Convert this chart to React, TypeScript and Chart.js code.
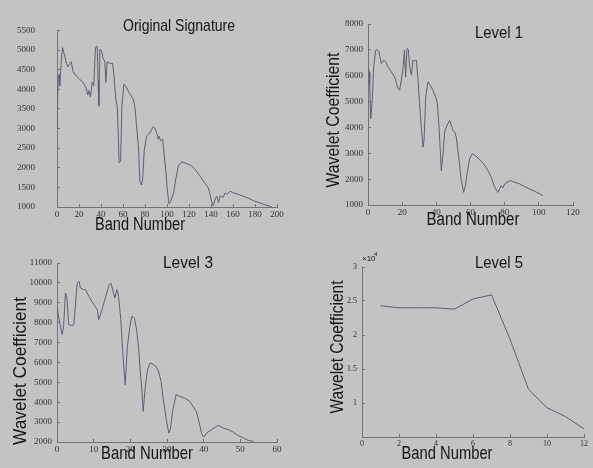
import React, { useEffect, useRef } from "react";
import { Chart, registerables } from "chart.js";

Chart.register(...registerables);

const BG = "#c3c3c3";
const LINE = "#5e5e76";
const AXIS = "#727272";
const TEXT = "#161616";
const TICK_TEXT = "#333333";

// ---- Original Signature ----
const sigBands = [0, 1, 2, 2.5, 3, 5, 7, 8.5, 10, 11.5, 13, 14.5, 17.5, 20.5, 23.7, 26.7, 28, 29, 30.4, 32, 33.4, 35, 36.5, 37.4, 38, 39, 40.4, 42, 43.5, 44.4, 45.6, 48, 50.5, 51.7, 53.5, 54.7, 55.6, 56.5, 57.8, 59, 60.8, 63, 66, 69, 70.8, 72, 74, 75.4, 77, 78, 79.3, 81.5, 84.5, 87.5, 89, 90.6, 92, 93, 94, 96, 97, 98.8, 100.3, 101.8, 103, 106, 108, 110.3, 113.4, 116.4, 119.5, 122.5, 125.5, 128.6, 131.6, 134.7, 137.7, 139.2, 140.7, 142, 143.8, 145.3, 146.8, 148.3, 150.8, 152.9, 154.4, 157.4, 160.5, 166.6, 172.6, 178.7, 184.8, 190.9, 195.4];
const sigValues = [3000, 4250, 4380, 4090, 4380, 5060, 4860, 4660, 4575, 4660, 4700, 4455, 4335, 4255, 4175, 4015, 3850, 3970, 3810, 4175, 4090, 5060, 5100, 4210, 3570, 5020, 4980, 4780, 4700, 4175, 4700, 4660, 4660, 4375, 3730, 3570, 2930, 2125, 2165, 3570, 4130, 4050, 3890, 3770, 3570, 3170, 2530, 1640, 1560, 1760, 2450, 2810, 2890, 3050, 3010, 2890, 2730, 2810, 2690, 2730, 2450, 1960, 1440, 1080, 1120, 1360, 1720, 2045, 2150, 2125, 2085, 2045, 1960, 1845, 1720, 1600, 1480, 1320, 1120, 1040, 1200, 1280, 1120, 1280, 1240, 1360, 1320, 1400, 1360, 1305, 1240, 1160, 1100, 1040, 1000];

// ---- Level 1 ----
const l1Bands = [0, 0.6, 1, 1.6, 2.5, 3.3, 4.5, 5.3, 6.4, 7.8, 9.2, 10.3, 11.7, 13.7, 15.6, 17.6, 18.5, 19.5, 20.5, 21.3, 22, 22.8, 23.6, 24.4, 25.4, 26.3, 27.3, 28.3, 29.3, 30.2, 31.2, 32.2, 32.8, 33.8, 35.1, 36.5, 38, 39.6, 40.6, 41.6, 42.3, 42.9, 43.9, 44.9, 46.2, 47.8, 48.8, 49.8, 50.7, 51.7, 53.3, 54.6, 56, 57, 58, 59.5, 61, 63, 65.4, 67.7, 70.2, 72.2, 74.1, 76, 77, 78, 79, 80, 81.4, 83.3, 85.9, 88.8, 91.7, 94.6, 97.6, 100.5, 102.4];
const l1Values = [6340, 6150, 5700, 4340, 5050, 6340, 6990, 7015, 6925, 6470, 6600, 6540, 6340, 6150, 5950, 5500, 5440, 5830, 6280, 6990, 5950, 7050, 7015, 6340, 6020, 6600, 6570, 6600, 5830, 4920, 4010, 3240, 3500, 5180, 5760, 5630, 5440, 5180, 4920, 4010, 3110, 2330, 2980, 3820, 4080, 4270, 4080, 3885, 3820, 3630, 2720, 1940, 1490, 1750, 2200, 2790, 2980, 2910, 2750, 2590, 2330, 2070, 1690, 1490, 1620, 1750, 1660, 1815, 1880, 1940, 1880, 1815, 1710, 1620, 1530, 1430, 1360];

// ---- Level 3 ----
const l3Bands = [0, 0.5, 1.4, 1.8, 2.3, 2.7, 3.2, 4.1, 4.6, 5.5, 6, 6.4, 7.3, 7.8, 8.7, 10.1, 11, 11.4, 12.4, 13.3, 14.2, 14.7, 15.3, 15.8, 16.3, 16.8, 17.4, 18, 18.6, 19.2, 19.9, 20.4, 21.1, 21.7, 22.3, 22.6, 23.2, 23.5, 24.1, 24.7, 25.4, 26.1, 27, 27.7, 28.4, 29, 29.8, 30.5, 30.9, 31.6, 32.5, 33.4, 34.8, 36.2, 37.1, 38, 38.6, 39.4, 40, 40.8, 42.1, 43.5, 44.2, 45.3, 46.7, 48.1, 49.5, 50.8, 52.2, 53.6];
const l3Values = [8820, 8230, 7400, 7820, 9490, 9240, 7900, 7850, 7900, 9990, 10080, 9740, 9660, 9660, 9320, 8900, 8650, 8150, 8740, 9320, 9910, 9990, 9570, 9240, 9660, 9320, 8150, 6310, 4880, 6810, 7820, 8320, 8230, 7650, 6640, 5800, 4460, 3540, 4800, 5640, 5970, 5920, 5800, 5550, 5050, 4130, 3120, 2450, 2620, 3630, 4380, 4300, 4210, 4040, 3790, 3540, 3120, 2450, 2250, 2450, 2620, 2790, 2820, 2700, 2620, 2490, 2320, 2200, 2080, 2030];

// ---- Level 5 ----
const l5Bands = [1, 2, 3, 4, 5, 6, 7, 8, 9, 10, 11, 12];
const l5Values = [24300, 24000, 24000, 24000, 23800, 25300, 25900, 19400, 12000, 9300, 8000, 6200];

type TextItem = { text: string; x: number; y: number; size: number; maxWidth?: number; rot?: number; align?: CanvasTextAlign };

function textPlugin(items: TextItem[]) {
  return {
    id: "panelText",
    afterDraw(chart: any) {
      const ctx = chart.ctx as CanvasRenderingContext2D;
      for (const t of items) {
        ctx.save();
        ctx.translate(t.x, t.y);
        if (t.rot) ctx.rotate(t.rot);
        ctx.font = `${t.size}px "Liberation Sans", Arial, sans-serif`;
        ctx.fillStyle = TEXT;
        ctx.textAlign = t.align || "center";
        ctx.textBaseline = "middle";
        if (t.maxWidth) ctx.fillText(t.text, 0, 0, t.maxWidth);
        else ctx.fillText(t.text, 0, 0);
        ctx.restore();
      }
    },
  };
}

type Panel = {
  left: number; top: number; width: number; height: number;
  bands: number[]; values: number[];
  xMin: number; xMax: number; xStep: number;
  yMin: number; yMax: number; yStep: number;
  yLabel: (v: number) => string;
  yAxisW: number; xAxisH: number; padTop: number; padRight: number;
  yTickPad: number; tickSize: number;
  items: TextItem[];
};

const ROT = -Math.PI / 2;

const panels: Panel[] = [
  {
    left: 0, top: 0, width: 300, height: 238,
    bands: sigBands, values: sigValues,
    xMin: 0, xMax: 200, xStep: 20, yMin: 1000, yMax: 5500, yStep: 500,
    yLabel: (v) => String(v),
    yAxisW: 57, xAxisH: 31, padTop: 22, padRight: 23, yTickPad: 25, tickSize: 9,
    items: [
      { text: "Original Signature", x: 179, y: 26, size: 17, maxWidth: 112 },
      { text: "Band Number", x: 140, y: 225, size: 18, maxWidth: 90 },
    ],
  },
  {
    left: 300, top: 0, width: 293, height: 238,
    bands: l1Bands, values: l1Values,
    xMin: 0, xMax: 120, xStep: 20, yMin: 1000, yMax: 8000, yStep: 1000,
    yLabel: (v) => String(v),
    yAxisW: 68, xAxisH: 33, padTop: 24, padRight: 20, yTickPad: 8, tickSize: 9,
    items: [
      { text: "Level 1", x: 199, y: 33, size: 17, maxWidth: 48 },
      { text: "Band Number", x: 173, y: 220, size: 18, maxWidth: 93 },
      { text: "Wavelet Coefficient", x: 34, y: 120, size: 18, maxWidth: 135, rot: ROT },
    ],
  },
  {
    left: 0, top: 238, width: 300, height: 230,
    bands: l3Bands, values: l3Values,
    xMin: 0, xMax: 60, xStep: 10, yMin: 2000, yMax: 11000, yStep: 1000,
    yLabel: (v) => String(v),
    yAxisW: 57, xAxisH: 26, padTop: 25, padRight: 23, yTickPad: 8, tickSize: 9,
    items: [
      { text: "Level 3", x: 188, y: 25, size: 17, maxWidth: 50 },
      { text: "Band Number", x: 147, y: 216, size: 19, maxWidth: 92 },
      { text: "Wavelet Coefficient", x: 21, y: 133, size: 19, maxWidth: 148, rot: ROT },
    ],
  },
  {
    left: 300, top: 238, width: 293, height: 230,
    bands: l5Bands, values: l5Values,
    xMin: 0, xMax: 12, xStep: 2, yMin: 5000, yMax: 30000, yStep: 5000,
    yLabel: (v) => (v === 5000 ? "" : String(v / 10000)),
    yAxisW: 62, xAxisH: 31, padTop: 29, padRight: 8, yTickPad: 8, tickSize: 8,
    items: [
      { text: "Level 5", x: 199, y: 25, size: 17, maxWidth: 48 },
      { text: "Band Number", x: 147, y: 216, size: 19, maxWidth: 91 },
      { text: "Wavelet Coefficient", x: 38, y: 109, size: 19, maxWidth: 133, rot: ROT },
      { text: "×10", x: 62, y: 21, size: 8, align: "left" },
      { text: "4", x: 74, y: 16, size: 6, align: "left" },
    ],
  },
];

function PanelChart({ p }: { p: Panel }) {
  const ref = useRef<HTMLCanvasElement | null>(null);
  useEffect(() => {
    if (!ref.current) return;
    const tickFont = { family: '"Liberation Serif", serif', size: p.tickSize };
    const chart = new Chart(ref.current, {
      type: "line",
      data: {
        datasets: [
          {
            data: p.bands.map((b, i) => ({ x: b, y: p.values[i] })),
            borderColor: LINE,
            borderWidth: 1,
            pointRadius: 0,
            tension: 0,
            fill: false,
          },
        ],
      },
      options: {
        animation: false,
        responsive: false,
        maintainAspectRatio: false,
        devicePixelRatio: 1,
        events: [],
        layout: { padding: { top: p.padTop, right: p.padRight, left: 0, bottom: 0 } },
        plugins: { legend: { display: false }, tooltip: { enabled: false }, title: { display: false } },
        scales: {
          x: {
            type: "linear",
            min: p.xMin,
            max: p.xMax,
            ticks: {
              stepSize: p.xStep,
              font: tickFont,
              color: TICK_TEXT,
              padding: 5,
              maxRotation: 0,
              autoSkip: false,
              callback: (v: any) => String(v),
            },
            grid: { drawOnChartArea: false, color: AXIS, tickLength: -3 },
            border: { color: AXIS, width: 1 },
            afterFit: (s: any) => { s.height = p.xAxisH; },
          },
          y: {
            type: "linear",
            min: p.yMin,
            max: p.yMax,
            ticks: {
              stepSize: p.yStep,
              font: tickFont,
              color: TICK_TEXT,
              padding: p.yTickPad,
              autoSkip: false,
              callback: (v: any) => p.yLabel(Number(v)),
            },
            grid: { drawOnChartArea: false, color: AXIS, tickLength: -3 },
            border: { color: AXIS, width: 1 },
            afterFit: (s: any) => { s.width = p.yAxisW; },
          },
        },
      },
      plugins: [textPlugin(p.items)],
    } as any);
    return () => chart.destroy();
  }, [p]);
  return (
    <canvas
      ref={ref}
      width={p.width}
      height={p.height}
      style={{ position: "absolute", left: p.left, top: p.top, width: p.width, height: p.height }}
    />
  );
}

export default function App() {
  useEffect(() => {
    document.body.style.margin = "0";
    document.body.style.background = BG;
  }, []);
  return (
    <div style={{ position: "fixed", left: 0, top: 0, width: 593, height: 468, background: BG, overflow: "hidden" }}>
      {panels.map((p, i) => (
        <PanelChart key={i} p={p} />
      ))}
    </div>
  );
}
